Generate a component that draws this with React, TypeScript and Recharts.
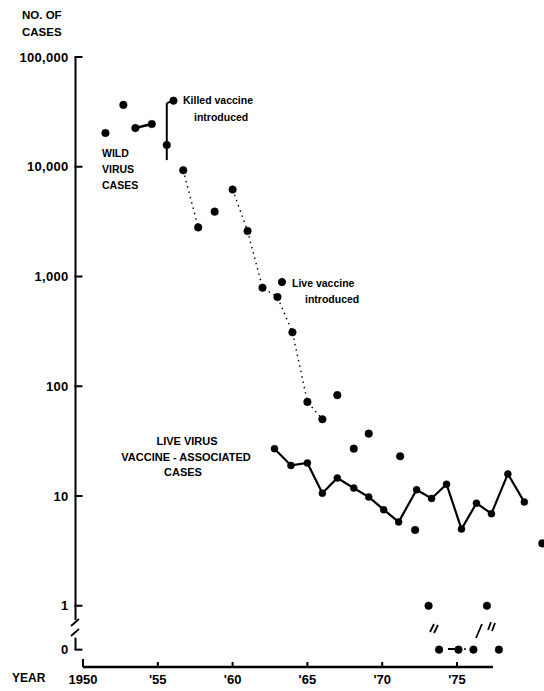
import React from 'react';
import { ComposedChart, Line, XAxis, YAxis, ReferenceLine, ReferenceDot } from 'recharts';

// ---------- data ----------
// Wild virus cases (year position as drawn, number of cases)
const wildYears = [1951.5, 1952.7, 1953.5, 1954.6, 1955.6, 1956.7, 1957.7, 1958.8, 1960.0, 1961.0, 1962.0, 1963.0, 1964.0, 1965.0, 1966.0, 1967.0, 1968.1, 1969.1, 1971.2, 1972.2, 1973.1, 1973.8, 1975.1, 1976.1, 1977.0, 1977.8, 1980.7];
const wildCases = [20300, 36600, 22500, 24500, 15800, 9300, 2800, 3900, 6200, 2600, 790, 650, 310, 72, 50, 83, 27, 37, 23, 4.9, 1, 0, 0, 0, 1, 0, 3.7];

// Live virus vaccine-associated cases
const vaccineYears = [1962.8, 1963.9, 1965.0, 1966.0, 1967.0, 1968.1, 1969.1, 1970.1, 1971.1, 1972.3, 1973.3, 1974.3, 1975.3, 1976.3, 1977.3, 1978.4, 1979.5];
const vaccineCases = [27, 19, 20, 10.6, 14.6, 11.8, 9.8, 7.5, 5.8, 11.4, 9.5, 12.8, 5.0, 8.6, 6.9, 15.9, 8.8];

// Wild-virus points joined by a dotted line / a solid line (index ranges into the wild arrays)
const dottedRuns = [[5, 6], [8, 14]];
const solidRuns = [[2, 3]];

// Axis ticks
const yTickCases = [100000, 10000, 1000, 100, 10, 1, 0];
const yTickLabels = ['100,000', '10,000', '1,000', '100', '10', '1', '0'];
const xTickYears = [1950, 1955, 1960, 1965, 1970, 1975];
const xTickLabels = ['1950', "'55", "'60", "'65", "'70", "'75"];

// Annotations (year, cases)
const killedYear = 1955.6;
const killedFrom = 11500;
const killedTo = 38000;
const killedMarker = { year: 1956.05, cases: 40000 };
const liveMarker = { year: 1963.3, cases: 890 };

// ---------- layout ----------
const W = 544;
const H = 691;
const PLOT_TOP = 57;
const PLOT_BOTTOM = 667;
const PLOT_LEFT = 75.5;
const PX_PER_DECADE = 109.75;
const PX_PER_YEAR = 14.96;
const Y_MAX = 5;
const Y_MIN = Y_MAX - (PLOT_BOTTOM - PLOT_TOP) / PX_PER_DECADE;
const X_MIN = 1950 - (83 - PLOT_LEFT) / PX_PER_YEAR;
const X_MAX = X_MIN + (W - PLOT_LEFT) / PX_PER_YEAR;
const ZERO_POS = -0.4;
const AXIS_END_YEAR = 1977.4;

const toLog = (v: number) => (v <= 0 ? ZERO_POS : Math.log10(v));
const FONT = '"Liberation Sans", Arial, sans-serif';

const wildData = wildYears.map((year, i) => ({ year, v: toLog(wildCases[i]) }));
const vaccineData = vaccineYears.map((year, i) => ({ year, v: toLog(vaccineCases[i]) }));
const yTickPos = yTickCases.map(toLog);

const YTick = (props: any) => {
  const { x, y, payload } = props;
  const idx = yTickPos.findIndex((p) => Math.abs(p - payload.value) < 1e-6);
  const label = idx >= 0 ? yTickLabels[idx] : '';
  return (
    <g>
      <line x1={x - 1} y1={y} x2={x + 7} y2={y} stroke="#000" strokeWidth={2} />
      <text x={x - 7} y={y} textAnchor="end" dominantBaseline="central" fontFamily={FONT} fontWeight={700} fontSize={13} letterSpacing={0.3} fill="#000">
        {label}
      </text>
    </g>
  );
};

const XTick = (props: any) => {
  const { x, y, payload } = props;
  const idx = xTickYears.indexOf(payload.value);
  const label = idx >= 0 ? xTickLabels[idx] : '';
  return (
    <g>
      <line x1={x} y1={y} x2={x} y2={y - (idx === 0 ? 8 : 5)} stroke="#000" strokeWidth={2} />
      <text x={x} y={y + 12} textAnchor="middle" dominantBaseline="central" fontFamily={FONT} fontWeight={700} fontSize={13} fill="#000">
        {label}
      </text>
    </g>
  );
};

const txt = { fontFamily: FONT, fontWeight: 700, fill: '#000' } as const;

export default function App() {
  return (
    <div style={{ position: 'absolute', left: 0, top: 0, width: W, height: H, background: '#fff' }}>
      <ComposedChart width={W} height={H} margin={{ top: PLOT_TOP, right: 0, bottom: 0, left: 0 }}>
        <XAxis
          type="number"
          dataKey="year"
          domain={[X_MIN, X_MAX]}
          ticks={xTickYears}
          interval={0}
          height={H - PLOT_BOTTOM}
          axisLine={false}
          tickLine={false}
          tickSize={0}
          tickMargin={0}
          tick={XTick}
        />
        <YAxis
          type="number"
          domain={[Y_MIN, Y_MAX]}
          ticks={yTickPos}
          interval={0}
          width={PLOT_LEFT}
          axisLine={false}
          tickLine={false}
          tickSize={0}
          tickMargin={0}
          tick={YTick}
        />

        {/* axes */}
        <ReferenceLine segment={[{ x: X_MIN, y: Y_MAX }, { x: X_MIN, y: -0.13 }]} stroke="#000" strokeWidth={2} ifOverflow="visible" />
        <ReferenceLine segment={[{ x: X_MIN, y: -0.29 }, { x: X_MIN, y: ZERO_POS }]} stroke="#000" strokeWidth={2} ifOverflow="visible" />
        <ReferenceLine segment={[{ x: 1950, y: Y_MIN }, { x: AXIS_END_YEAR, y: Y_MIN }]} stroke="#000" strokeWidth={2.6} ifOverflow="visible" />

        {/* killed vaccine annotation */}
        <ReferenceLine segment={[{ x: killedYear, y: toLog(killedFrom) }, { x: killedYear, y: toLog(killedTo) }]} stroke="#000" strokeWidth={2} ifOverflow="visible" />
        <ReferenceLine segment={[{ x: killedYear, y: toLog(killedTo) }, { x: killedMarker.year, y: toLog(killedMarker.cases) }]} stroke="#000" strokeWidth={2} ifOverflow="visible" />
        <ReferenceDot x={killedMarker.year} y={toLog(killedMarker.cases)} r={3.6} fill="#000" stroke="#000" ifOverflow="visible" />
        <ReferenceDot x={liveMarker.year} y={toLog(liveMarker.cases)} r={3.6} fill="#000" stroke="#000" ifOverflow="visible" />

        {/* connectors between wild points */}
        {dottedRuns.map(([a, b], k) => (
          <Line
            key={'d' + k}
            data={wildData.slice(a, b + 1)}
            dataKey="v"
            type="linear"
            stroke="#000"
            strokeWidth={1.4}
            strokeDasharray="1.5 4"
            dot={false}
            activeDot={false}
            isAnimationActive={false}
          />
        ))}
        {solidRuns.map(([a, b], k) => (
          <Line
            key={'s' + k}
            data={wildData.slice(a, b + 1)}
            dataKey="v"
            type="linear"
            stroke="#000"
            strokeWidth={2.6}
            dot={false}
            activeDot={false}
            isAnimationActive={false}
          />
        ))}

        {/* wild virus points */}
        <Line
          data={wildData}
          dataKey="v"
          type="linear"
          stroke="none"
          dot={{ r: 3.8, fill: '#000', stroke: '#000', strokeWidth: 0.5 }}
          activeDot={false}
          isAnimationActive={false}
        />

        {/* vaccine-associated cases */}
        <Line
          data={vaccineData}
          dataKey="v"
          type="linear"
          stroke="#000"
          strokeWidth={2.2}
          dot={{ r: 3.5, fill: '#000', stroke: '#000', strokeWidth: 0.5 }}
          activeDot={false}
          isAnimationActive={false}
        />

        {/* axis break marks */}
        <line x1={71} y1={626} x2={79} y2={619} stroke="#000" strokeWidth={1.8} />
        <line x1={71} y1={636} x2={79} y2={629} stroke="#000" strokeWidth={1.8} />
        <line x1={430} y1={632} x2={434} y2={624} stroke="#000" strokeWidth={1.8} />
        <line x1={434} y1={633} x2={438} y2={625} stroke="#000" strokeWidth={1.8} />
        <line x1={476} y1={638} x2={482} y2={624} stroke="#000" strokeWidth={1.8} />
        <line x1={488} y1={630} x2={491} y2={622} stroke="#000" strokeWidth={1.8} />
        <line x1={492} y1={631} x2={495} y2={623} stroke="#000" strokeWidth={1.8} />
        <line x1={448} y1={649} x2={457} y2={649} stroke="#000" strokeWidth={2} />
        <circle cx={465} cy={649} r={1} fill="#000" />

        {/* texts */}
        <text x={22} y={15} dominantBaseline="central" fontSize={11.5} {...txt}>NO. OF</text>
        <text x={22} y={32} dominantBaseline="central" fontSize={11.5} {...txt}>CASES</text>
        <text x={12} y={678} dominantBaseline="central" fontSize={12} {...txt}>YEAR</text>

        <text x={102} y={153} dominantBaseline="central" fontSize={10.5} {...txt}>WILD</text>
        <text x={102} y={169} dominantBaseline="central" fontSize={10.5} {...txt}>VIRUS</text>
        <text x={102} y={185} dominantBaseline="central" fontSize={10.5} {...txt}>CASES</text>

        <text x={183} y={100} dominantBaseline="central" fontSize={10.5} {...txt}>Killed  vaccine</text>
        <text x={194} y={117} dominantBaseline="central" fontSize={10.5} {...txt}>introduced</text>

        <text x={292} y={283} dominantBaseline="central" fontSize={10.5} {...txt}>Live vaccine</text>
        <text x={305} y={299} dominantBaseline="central" fontSize={10.5} {...txt}>introduced</text>

        <text x={187} y={441} textAnchor="middle" dominantBaseline="central" fontSize={11} {...txt}>LIVE  VIRUS</text>
        <text x={186} y={457} textAnchor="middle" dominantBaseline="central" fontSize={11} {...txt}>VACCINE - ASSOCIATED</text>
        <text x={183} y={472} textAnchor="middle" dominantBaseline="central" fontSize={11} {...txt}>CASES</text>
      </ComposedChart>
    </div>
  );
}
